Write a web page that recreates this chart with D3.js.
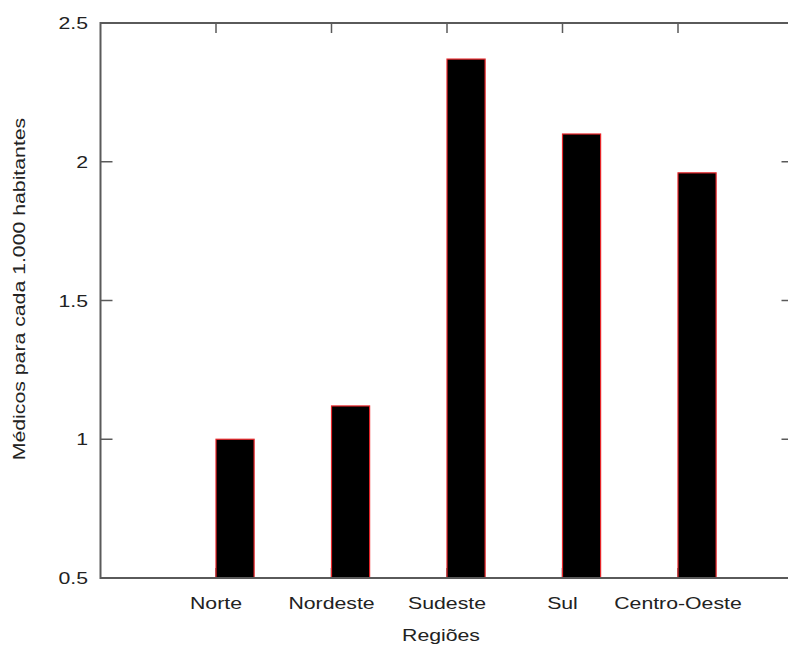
<!DOCTYPE html>
<html lang="pt">
<head>
<meta charset="UTF-8">
<title>Médicos por região</title>
<script src="https://d3js.org/d3.v7.min.js"></script>
<style>
  body { margin: 0; background: #fff; }
  text { font-family: "Liberation Sans", Arial, sans-serif; fill: #222; font-size: 17px; }
</style>
</head>
<body>
<div id="chart"></div>
<script>
// dados
const regioes = ["Norte", "Nordeste", "Sudeste", "Sul", "Centro-Oeste"];
const medicos = [1.0, 1.12, 2.37, 2.10, 1.96];
const yTicks = [0.5, 1, 1.5, 2, 2.5];

const W = 788, H = 651;
const mLeft = 100.5, mTop = 23, mBottom = 578, mRight = 793.5;
const stretch = "scale(1.25,1)"; // texto do original é mais largo

const svg = d3.select("#chart")
  .append("svg")
  .attr("width", W)
  .attr("height", H);

// posições 0..6, categorias em 1..5
const x = d3.scaleLinear().domain([0, 6]).range([mLeft, mRight]);
const y = d3.scaleLinear().domain([0.5, 2.5]).range([mBottom, mTop]);
const barW = 0.33;

const frameColor = "#5a5a5a";

// ticks internos
const g = svg.append("g");
yTicks.forEach(function (t) {
  if (t == 0.5 || t == 2.5) return;
  g.append("line").attr("x1", mLeft).attr("x2", mLeft + 12)
    .attr("y1", y(t)).attr("y2", y(t))
    .attr("stroke", frameColor).attr("stroke-width", 1.5);
  g.append("line").attr("x1", mRight - 12).attr("x2", mRight)
    .attr("y1", y(t)).attr("y2", y(t))
    .attr("stroke", frameColor).attr("stroke-width", 1.5);
});
regioes.forEach(function (r, i) {
  g.append("line").attr("x1", x(i + 1)).attr("x2", x(i + 1))
    .attr("y1", mTop).attr("y2", mTop + 10)
    .attr("stroke", frameColor).attr("stroke-width", 1.5);
  g.append("line").attr("x1", x(i + 1)).attr("x2", x(i + 1))
    .attr("y1", mBottom).attr("y2", mBottom - 10)
    .attr("stroke", frameColor).attr("stroke-width", 1.5);
});

// barras
svg.append("g")
  .selectAll("rect")
  .data(medicos)
  .enter()
  .append("rect")
    .attr("x", function (d, i) { return x(i + 1); })
    .attr("y", function (d) { return y(d); })
    .attr("width", function (d, i) { return x(i + 1 + barW) - x(i + 1); })
    .attr("height", function (d) { return mBottom - y(d); })
    .attr("fill", "#000")
    .attr("stroke", "#e8262a")
    .attr("stroke-width", 1.2);

// moldura
svg.append("rect")
  .attr("x", mLeft).attr("y", mTop)
  .attr("width", mRight - mLeft).attr("height", mBottom - mTop)
  .attr("fill", "none")
  .attr("stroke", frameColor)
  .attr("stroke-width", 2);

// rótulos dos eixos
svg.append("g")
  .selectAll("text")
  .data(yTicks)
  .enter()
  .append("text")
    .attr("transform", function (d) { return "translate(88," + y(d) + ") " + stretch; })
    .attr("dy", "0.36em")
    .attr("text-anchor", "end")
    .text(function (d) { return d; });

svg.append("g")
  .selectAll("text")
  .data(regioes)
  .enter()
  .append("text")
    .attr("transform", function (d, i) { return "translate(" + x(i + 1) + ",609) " + stretch; })
    .attr("text-anchor", "middle")
    .text(function (d) { return d; });

svg.append("text")
  .attr("transform", "translate(441,641) " + stretch)
  .attr("text-anchor", "middle")
  .text("Regiões");

svg.append("text")
  .attr("transform", "translate(25,289) rotate(-90) " + stretch)
  .attr("text-anchor", "middle")
  .text("Médicos para cada 1.000 habitantes");
</script>
</body>
</html>
